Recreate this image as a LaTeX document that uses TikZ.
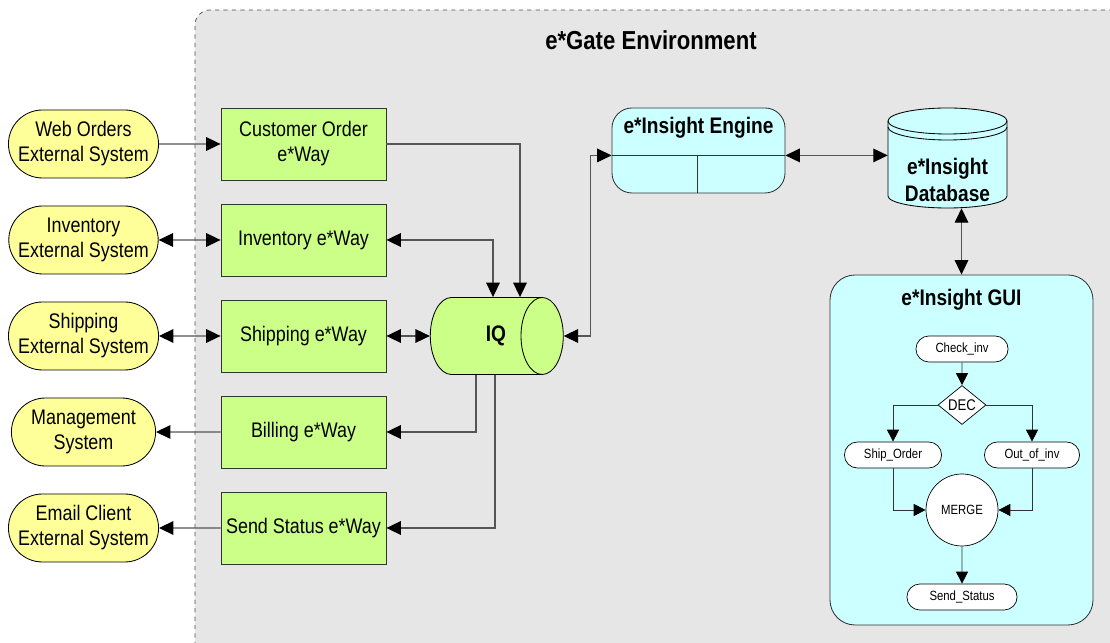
\documentclass[tikz,border=0pt]{standalone}
\usepackage{fontspec}
\setmainfont{Liberation Sans}[FakeStretch=0.85]
\usetikzlibrary{arrows.meta,positioning,shapes.geometric,shapes.misc,calc}
\definecolor{envgray}{HTML}{E6E6E6}
\definecolor{extyellow}{HTML}{FFFF99}
\definecolor{waygreen}{HTML}{CCFF88}
\definecolor{insightcyan}{HTML}{CCFFFF}
\definecolor{wire}{HTML}{555555}
\newlength\pxu
\setlength\pxu{0.025cm}
\tikzset{
  extbox/.style={rounded rectangle, draw=black, fill=extyellow, line width=0.6pt, align=center,
    minimum width=147*\pxu, minimum height=68*\pxu, inner sep=1pt, font=\fontsize{15}{17.8}\selectfont},
  waybox/.style={rectangle, draw=black!80, fill=waygreen, line width=0.6pt, align=center,
    minimum width=165*\pxu, minimum height=72*\pxu, inner sep=1pt, font=\fontsize{15}{17.8}\selectfont},
  queuebox/.style={cylinder, draw=black, fill=waygreen, line width=0.6pt, aspect=2.1,
    minimum width=77*\pxu, minimum height=133*\pxu, inner sep=0pt, font=\bfseries\fontsize{16}{19}\selectfont},
  insightbox/.style={rectangle, draw=black!80, fill=insightcyan, line width=0.6pt},
  headtext/.style={font=\bfseries\fontsize{16}{19}\selectfont, align=center, inner sep=0pt},
  stepbox/.style={rounded rectangle, draw=black, fill=white, line width=0.5pt, minimum height=26*\pxu,
    inner sep=1pt, font=\fontsize{9.5}{11}\selectfont},
  arr/.style={-{Triangle[length=3.6mm,width=3.4mm,color=black]}, draw=wire, line width=0.8pt},
  dblarr/.style={{Triangle[length=3.6mm,width=3.4mm,color=black]}-{Triangle[length=3.6mm,width=3.4mm,color=black]},
    draw=wire, line width=0.8pt},
  smallarr/.style={-{Triangle[length=3mm,width=3mm,color=black]}, draw=black!80, line width=0.6pt}
}
\begin{document}
\begin{tikzpicture}[x=0.025cm, y=0.025cm]
  \useasboundingbox (0,0) rectangle (1110,643);
  \clip (0,0) rectangle (1110,643);
  % e*Gate environment
  \fill[envgray, rounded corners=0.375cm] (195,-20) -- (195,633) -- (1130,633) -- (1130,-20) -- cycle;
  \draw[dashed, draw=black!70, line width=0.5pt, rounded corners=0.375cm] (195,-20) -- (195,633) -- (1130,633);
  \node[font=\bfseries\fontsize{18.5}{21}\selectfont] (envtitle) at (651,603) {e*Gate Environment};

  % external systems
  \node[extbox] (web) at (83.5,499) {Web Orders\\External System};
  \node[extbox] (invx) at (83.5,403) {Inventory\\External System};
  \node[extbox] (shipx) at (83.5,307) {Shipping\\External System};
  \node[extbox] (mgmt) at (83.5,211) {Management\\System};
  \node[extbox] (email) at (83.5,115) {Email Client\\External System};

  % e*Ways
  \node[waybox] (custway) at (303.5,499) {Customer Order\\e*Way};
  \node[waybox] (invway) at (303.5,403) {Inventory e*Way};
  \node[waybox] (shipway) at (303.5,307) {Shipping e*Way};
  \node[waybox] (billway) at (303.5,211) {Billing e*Way};
  \node[waybox] (statway) at (303.5,115) {Send Status e*Way};

  \node[queuebox] (iq) at (486,307) {\hspace*{20\pxu}IQ};

  % e*Insight engine and database
  \node[insightbox, rounded corners=0.5cm, minimum width=173*\pxu, minimum height=85*\pxu] (engine) at (698.5,492.5) {};
  \node[headtext] (enginetitle) at (698.5,515) {e*Insight Engine};
  \coordinate (engL) at ([yshift=38*\pxu]engine.south west);
  \coordinate (engR) at ([yshift=38*\pxu]engine.south east);
  \draw[draw=black!80, line width=0.6pt] (engL) -- (engR);
  \draw[draw=black!80, line width=0.6pt] ([xshift=-1.5*\pxu]engine.south) -- ++(0,38);

  \filldraw[fill=insightcyan, draw=black, line width=0.6pt] (888,522) -- (888,447)
    arc[start angle=180, end angle=360, x radius=59.5, y radius=12] -- (1007,522)
    arc[start angle=0, end angle=180, x radius=59.5, y radius=13] -- cycle;
  \draw[line width=0.6pt] (888,522) arc[start angle=180, end angle=360, x radius=59.5, y radius=13];
  \draw[line width=0.6pt] (888,516) arc[start angle=180, end angle=360, x radius=59.5, y radius=13];
  \node[headtext, minimum width=119*\pxu, minimum height=56*\pxu] (db) at (947.5,463) {e*Insight\\Database};

  % e*Insight GUI
  \node[insightbox, rounded corners=0.625cm, minimum width=263*\pxu, minimum height=350*\pxu] (gui) at (961.5,193) {};
  \node[headtext] (guititle) at (961.5,343) {e*Insight GUI};
  \node[stepbox, minimum width=95*\pxu] (check) at (962,294) {Check\_inv};
  \node[diamond, draw=black, fill=white, line width=0.5pt, minimum width=48*\pxu, minimum height=39*\pxu,
    inner sep=0pt, font=\fontsize{11}{13}\selectfont] (dec) at (962,238) {DEC};
  \node[stepbox, minimum width=100*\pxu] (ship) at (893,188) {Ship\_Order};
  \node[stepbox, minimum width=98*\pxu] (outinv) at (1032,188) {Out\_of\_inv};
  \node[circle, draw=black, fill=white, line width=0.5pt, minimum size=72*\pxu, inner sep=0pt,
    font=\fontsize{9.5}{11}\selectfont] (merge) at (962,133) {MERGE};
  \node[stepbox, minimum width=113*\pxu] (send) at (962,46) {Send\_Status};

  % connectors
  \draw[arr] (web) -- (custway);
  \draw[dblarr] (invx) -- (invway);
  \draw[dblarr] (shipx) -- (shipway);
  \draw[arr] (billway) -- (mgmt);
  \draw[arr] (statway) -- (email);
  \draw[arr] (custway.east) -| ([xshift=34*\pxu]iq.north);
  \draw[dblarr] (invway.east) -| ([xshift=7*\pxu]iq.north);
  \draw[dblarr] (shipway) -- (iq);
  \draw[arr] ([xshift=-10*\pxu]iq.south) |- (billway.east);
  \draw[arr] ([xshift=9*\pxu]iq.south) |- (statway.east);
  \draw[dblarr] (iq.east) -- ++(27,0) |- (engL);
  \draw[dblarr] (engR) -- (engR -| db.west);
  \draw[dblarr] (gui.north) -- (gui.north |- db.south);

  \draw[smallarr] (check) -- (dec);
  \draw[smallarr] (dec.west) -| (ship.north);
  \draw[smallarr] (dec.east) -| (outinv.north);
  \draw[smallarr] (ship.south) |- (merge.west);
  \draw[smallarr] (outinv.south) |- (merge.east);
  \draw[smallarr] (merge) -- (send);
\end{tikzpicture}
\end{document}
